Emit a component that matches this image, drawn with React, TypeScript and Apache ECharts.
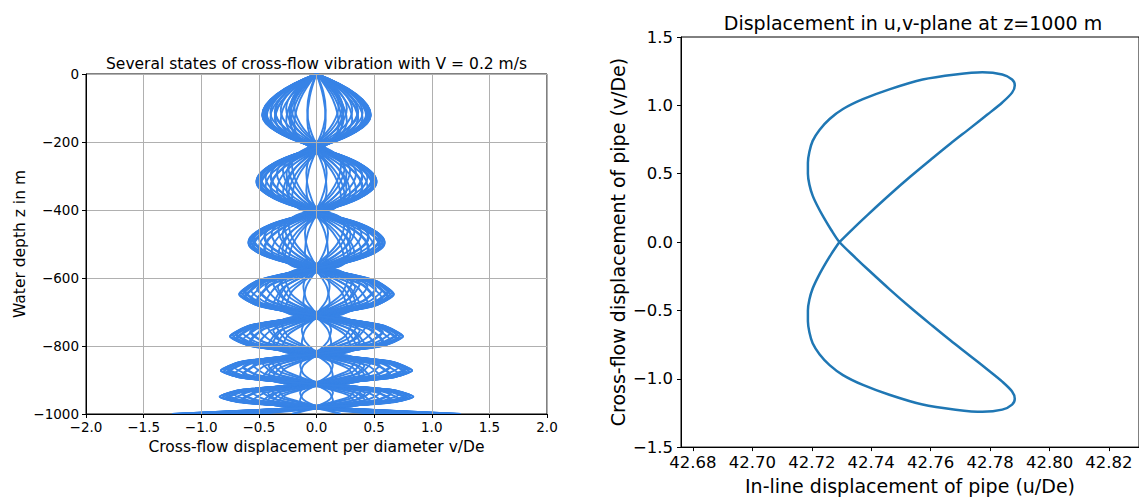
import React, { useEffect, useRef } from "react";
import * as echarts from "echarts";

const leftTitle = "Several states of cross-flow vibration with V = 0.2 m/s";
const leftXName = "Cross-flow displacement per diameter v/De";
const leftYName = "Water depth z in m";
const rightTitle = "Displacement in u,v-plane at z=1000 m";
const rightXName = "In-line displacement of pipe (u/De)";
const rightYName = "Cross-flow displacement of pipe (v/De)";

// Left panel: mode-shape envelope
const nodeDepths = [0, -216, -406, -571, -710, -823, -912, -980];
const antinodeDepths = [-121, -317, -496, -648, -772, -872, -949];
const antinodeAmps = [0.47, 0.52, 0.59, 0.67, 0.75, 0.83, 0.84];
const shoulderRatios = [0.74, 0.74, 0.75, 0.77, 0.78, 0.8, 0.8];
const lobeSkew = [0.4, 0.8, 1, 1, 1, 1, 1];
const endDepth = -1000;
const endAmp = 1.25;

// Several states: relative amplitude and antinode shift (fraction of half lobe)
const stateFactors = [
  1.0, 0.94, 0.77, 0.5, 0.17, -0.17, -0.5, -0.77, -0.94,
  -1.0, -0.94, -0.77, -0.5, -0.17, 0.17, 0.5, 0.77, 0.94,
  1.0, 0.97, 0.92, 0.85, 0.76, 0.66, 0.56, 0.47, 0.41,
  -0.41, -0.47, -0.56, -0.66, -0.76, -0.85, -0.92, -0.97, -1.0,
  -1.0, -0.97, -0.92, -0.85, -0.76, -0.66, -0.56, -0.47, -0.41,
  0.41, 0.47, 0.56, 0.66, 0.76, 0.85, 0.92, 0.97, 1.0,
];
const stateShifts = [
  0, 0.12, 0.22, 0.3, 0.34, 0.34, 0.3, 0.22, 0.12,
  0, -0.12, -0.22, -0.3, -0.34, -0.34, -0.3, -0.22, -0.12,
  0.02, 0.07, 0.12, 0.17, 0.24, 0.33, 0.45, 0.6, 0.7,
  -0.7, -0.6, -0.45, -0.33, -0.24, -0.17, -0.12, -0.07, -0.02,
  0.02, 0.07, 0.12, 0.17, 0.24, 0.33, 0.45, 0.6, 0.7,
  -0.7, -0.6, -0.45, -0.33, -0.24, -0.17, -0.12, -0.07, -0.02,
];

// Right panel: trajectory at z = 1000 m
const inlineU = [
  42.7293, 42.7348, 42.7389, 42.7462, 42.7532, 42.7605, 42.7666, 42.773, 42.7793, 42.7841, 42.7874, 42.7883, 42.7874, 42.7841,
  42.7774, 42.7684, 42.7573, 42.7461, 42.7372, 42.7305, 42.726, 42.7226, 42.7203, 42.7192, 42.7187, 42.7187, 42.7192, 42.7203,
  42.722, 42.724, 42.7265,
  42.7293, 42.7348, 42.7389, 42.7462, 42.7532, 42.7605, 42.7666, 42.773, 42.7793, 42.7841, 42.7874, 42.7883, 42.7874, 42.7841,
  42.7774, 42.7684, 42.7573, 42.7461, 42.7372, 42.7305, 42.726, 42.7226, 42.7203, 42.7192, 42.7187, 42.7187, 42.7192, 42.7203,
  42.722, 42.724, 42.7265,
  42.7293,
];
const crossV = [
  0, 0.117, 0.201, 0.346, 0.479, 0.611, 0.719, 0.828, 0.936, 1.021, 1.093, 1.146, 1.189, 1.226,
  1.242, 1.226, 1.189, 1.117, 1.045, 0.973, 0.9, 0.82, 0.74, 0.66, 0.58, 0.5, 0.42, 0.34,
  0.26, 0.18, 0.09,
  0, -0.117, -0.201, -0.346, -0.479, -0.611, -0.719, -0.828, -0.936, -1.021, -1.093, -1.146, -1.189, -1.226,
  -1.242, -1.226, -1.189, -1.117, -1.045, -0.973, -0.9, -0.82, -0.74, -0.66, -0.58, -0.5, -0.42, -0.34,
  -0.26, -0.18, -0.09,
  0,
];

const leftXMin = -2;
const leftXMax = 2;
const leftXStep = 0.5;
const leftYMin = -1000;
const leftYMax = 0;
const leftYStep = 200;
const rightXTicks = [42.68, 42.7, 42.72, 42.74, 42.76, 42.78, 42.8, 42.82];
const rightYMin = -1.5;
const rightYMax = 1.5;
const rightYStep = 0.5;

const minus = (v: number, d: number) => (v < 0 ? "\u2212" : "") + Math.abs(v).toFixed(d);

function buildState(f: number, s: number): number[][] {
  const pts: number[][] = [[0, nodeDepths[0]]];
  for (let i = 0; i < antinodeDepths.length; i++) {
    const top = nodeDepths[i];
    const bottom = nodeDepths[i + 1];
    const half = (top - bottom) / 2;
    const a = antinodeDepths[i] + s * lobeSkew[i] * half;
    const nodeTop = i === 0 ? top : top + s * 0.2 * half;
    const nodeBottom = bottom + s * 0.2 * half;
    const sign = i % 2 === 0 ? 1 : -1;
    const amp = sign * antinodeAmps[i] * f;
    pts.push([amp * shoulderRatios[i], (nodeTop + a) / 2]);
    pts.push([amp, a]);
    pts.push([amp * shoulderRatios[i], (a + nodeBottom) / 2]);
    pts.push([0, nodeBottom]);
  }
  const endSign = antinodeDepths.length % 2 === 0 ? 1 : -1;
  pts.push([endSign * endAmp * f, endDepth]);
  return pts;
}

export default function App() {
  const ref = useRef<HTMLDivElement>(null);
  useEffect(() => {
    if (!ref.current) return;
    const chart = echarts.init(ref.current, undefined, { renderer: "svg" });
    const blue = "#3783e6";
    const series: any[] = [];
    stateFactors.forEach((f, k) => {
      const pts = buildState(f, stateShifts[k]);
      series.push({
        type: "line",
        xAxisIndex: 0,
        yAxisIndex: 0,
        data: pts.slice(0, 13),
        smooth: 0.4,
        showSymbol: false,
        symbol: "none",
        lineStyle: { color: blue, width: 1.9 },
        z: 2,
      });
      series.push({
        type: "line",
        xAxisIndex: 0,
        yAxisIndex: 0,
        data: pts.slice(12),
        smooth: 0.2,
        showSymbol: false,
        symbol: "none",
        lineStyle: { color: blue, width: 1.9 },
        z: 2,
      });
    });
    series.push({
      type: "line",
      xAxisIndex: 1,
      yAxisIndex: 1,
      data: inlineU.map((u, i) => [u, crossV[i]]),
      smooth: 0.3,
      showSymbol: false,
      symbol: "none",
      lineStyle: { color: "#1f77b4", width: 2.5 },
    });

    const axisCommon = {
      axisLine: { show: true, onZero: false, lineStyle: { color: "#000", width: 1 } },
      axisTick: { show: true, inside: false, length: 4, lineStyle: { color: "#000" } },
    };

    chart.setOption({
      animation: false,
      textStyle: { fontFamily: "DejaVu Sans", color: "#000" },
      grid: [
        { left: 86, top: 74, width: 461, height: 340, show: true, borderColor: "#000", borderWidth: 1, backgroundColor: "transparent" },
        { left: 681, top: 37, width: 460, height: 415, show: true, borderColor: "#000", borderWidth: 1, backgroundColor: "transparent" },
      ],
      xAxis: [
        {
          type: "value",
          gridIndex: 0,
          min: leftXMin,
          max: leftXMax,
          interval: leftXStep,
          z: 5,
          ...axisCommon,
          axisLabel: { formatter: (v: number) => minus(v, 1), fontSize: 13.5, color: "#000", margin: 6 },
          splitLine: { show: true, lineStyle: { color: "#b0b0b0", width: 1 } },
          name: leftXName,
          nameLocation: "middle",
          nameGap: 22,
          nameTextStyle: { fontSize: 15.5, color: "#000" },
        },
        {
          type: "value",
          gridIndex: 1,
          min: 42.676,
          max: 42.8301,
          ...axisCommon,
          axisTick: { ...axisCommon.axisTick, customValues: rightXTicks },
          axisLabel: { customValues: rightXTicks, formatter: (v: number) => v.toFixed(2), fontSize: 16.5, color: "#000", margin: 7 },
          splitLine: { show: false },
          name: rightXName,
          nameLocation: "middle",
          nameGap: 28,
          nameTextStyle: { fontSize: 19, color: "#000" },
        },
      ],
      yAxis: [
        {
          type: "value",
          gridIndex: 0,
          min: leftYMin,
          max: leftYMax,
          interval: leftYStep,
          z: 5,
          ...axisCommon,
          axisLabel: { formatter: (v: number) => (v === 0 ? "0" : minus(v, 0)), fontSize: 13.5, color: "#000", margin: 7 },
          splitLine: { show: true, lineStyle: { color: "#b0b0b0", width: 1 } },
          name: leftYName,
          nameLocation: "middle",
          nameGap: 58,
          nameTextStyle: { fontSize: 15.5, color: "#000" },
        },
        {
          type: "value",
          gridIndex: 1,
          min: rightYMin,
          max: rightYMax,
          interval: rightYStep,
          ...axisCommon,
          axisLabel: { formatter: (v: number) => minus(v, 1), fontSize: 16.5, color: "#000", margin: 8 },
          splitLine: { show: false },
          name: rightYName,
          nameLocation: "middle",
          nameGap: 54,
          nameTextStyle: { fontSize: 19, color: "#000" },
        },
      ],
      graphic: [
        {
          type: "text",
          x: 316.5,
          y: 63.5,
          style: { text: leftTitle, fontSize: 15.5, fontFamily: "DejaVu Sans", fill: "#000", align: "center", verticalAlign: "middle" },
        },
        {
          type: "text",
          x: 913,
          y: 23,
          style: { text: rightTitle, fontSize: 19, fontFamily: "DejaVu Sans", fill: "#000", align: "center", verticalAlign: "middle" },
        },
      ],
      series,
    });
    return () => chart.dispose();
  }, []);
  return <div ref={ref} style={{ position: "fixed", left: 0, top: 0, width: 1139, height: 500, background: "#fff" }} />;
}
